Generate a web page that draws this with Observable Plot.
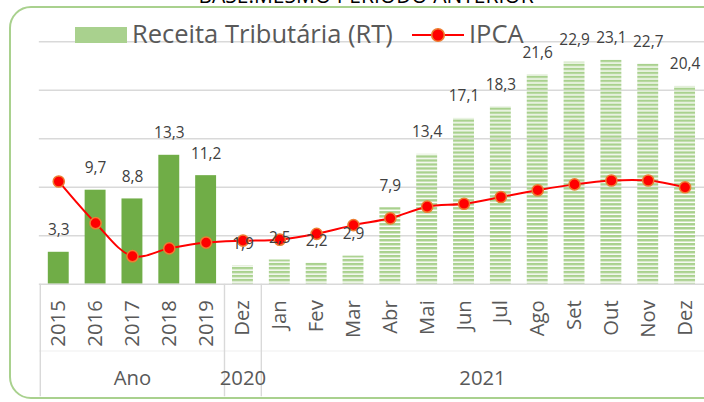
<!DOCTYPE html>
<html>
<head>
<meta charset="utf-8">
<script src="https://cdn.jsdelivr.net/npm/d3@7"></script>
<script src="https://cdn.jsdelivr.net/npm/@observablehq/plot@0.6"></script>
<style>
  html, body { margin: 0; padding: 0; background: #fff; overflow: hidden; }
  #wrap { position: relative; width: 704px; height: 402px; overflow: hidden; font-family: "Open Sans", sans-serif; }
  #border { position: absolute; left: 9px; top: 6px; width: 720px; height: 393px; box-sizing: border-box; border: 2px solid #a9d18e; border-radius: 22px; }
  #title { position: absolute; left: 0; width: 732px; text-align: center; top: -14.6px; font-size: 21px; line-height: 1; color: #000; white-space: nowrap; }
  #chart { position: absolute; left: 0; top: 0; }
  .leg { position: absolute; font-size: 25.5px; line-height: 1; color: #595959; white-space: nowrap; }
</style>
</head>
<body>
<svg width="0" height="0" style="position:absolute">
  <defs>
    <pattern id="hatch" patternUnits="userSpaceOnUse" width="6" height="4">
      <rect x="0" y="0" width="6" height="2" fill="#a9d18e"></rect>
      <rect x="0" y="2" width="6" height="1" fill="#d3e6c4"></rect>
    </pattern>
  </defs>
</svg>
<div id="wrap">
  <div id="border"></div>
  <div id="title"></div>
  <div id="chart"></div>
  <div id="legend"></div>
</div>
<script>
// ---- data ----
const categories = ["2015","2016","2017","2018","2019","Dez-2020","Jan","Fev","Mar","Abr","Mai","Jun","Jul","Ago","Set","Out","Nov","Dez"];
const tickLabels = ["2015","2016","2017","2018","2019","Dez","Jan","Fev","Mar","Abr","Mai","Jun","Jul","Ago","Set","Out","Nov","Dez"];
const periodGroup = ["Ano","Ano","Ano","Ano","Ano","2020","2021","2021","2021","2021","2021","2021","2021","2021","2021","2021","2021","2021"];
const groups = ["Ano","2020","2021"];
const receitaRT = [3.3, 9.7, 8.8, 13.3, 11.2, 1.9, 2.5, 2.2, 2.9, 7.9, 13.4, 17.1, 18.3, 21.6, 22.9, 23.1, 22.7, 20.4];
const ipca = [10.6, 6.3, 2.9, 3.7, 4.3, 4.5, 4.6, 5.2, 6.1, 6.8, 8.0, 8.3, 9.0, 9.7, 10.3, 10.7, 10.7, 10.0];
const yTicks = [0, 5, 10, 15, 20, 25];
const titleText = "BASE:MESMO PERÍODO ANTERIOR";
const legendRT = "Receita Tributária (RT)";
const legendIPCA = "IPCA";

// ---- layout ----
const W = 707, H = 402;
const mLeft = 39, mRight = 0, mTop = 41.5, mBottom = 117;
const step = (W - mLeft - mRight) / categories.length;

const data = categories.map((c, i) => ({cat: c, label: tickLabels[i], grupo: periodGroup[i], rt: receitaRT[i], ipca: ipca[i]}));
const fmt = v => v.toFixed(1).replace(".", ",");

// group separators and labels
const groupInfo = groups.map(g => {
  const idx = periodGroup.map((p, i) => p === g ? i : -1).filter(i => i >= 0);
  const first = idx[0], last = idx[idx.length - 1];
  const mid = (first + last) / 2;
  return {g, first: categories[first], midCat: categories[Math.floor(mid)], dx: (mid - Math.floor(mid)) * step};
});

const gray = "#d9d9d9";
const textCol = "#595959";

const chart = Plot.plot({
  width: W, height: H,
  marginLeft: mLeft, marginRight: mRight, marginTop: mTop, marginBottom: mBottom,
  style: {background: "none", overflow: "visible", fontFamily: "Open Sans, sans-serif"},
  x: {domain: categories, paddingInner: 0.43, paddingOuter: 0.215, axis: null},
  y: {domain: [0, 25], axis: null},
  marks: [
    Plot.ruleY(yTicks.filter(d => d > 0), {stroke: gray, strokeWidth: 1.4}),
    Plot.ruleY([0], {stroke: "#efefef", strokeWidth: 1, dy: 67}),
    Plot.barY(data, {x: "cat", y: "rt", fill: d => d.grupo === "Ano" ? "#70ad47" : "url(#hatch)"}),
    Plot.ruleY([0], {stroke: gray, strokeWidth: 1.6}),
    Plot.ruleX(groupInfo, {x: "first", dx: -step / 2, stroke: gray, strokeWidth: 1.4, insetTop: H - mTop - mBottom, insetBottom: -113}),
    Plot.line(data, {x: "cat", y: "ipca", stroke: "#ff0000", strokeWidth: 2, curve: "catmull-rom"}),
    Plot.dot(data, {x: "cat", y: "ipca", r: 5.6, fill: "#ff0000", stroke: "#ed7d31", strokeWidth: 1.5}),
    Plot.text(data, {x: "cat", y: "rt", text: d => fmt(d.rt), dy: -22, fill: "#404040", fontSize: 15.5}),
    Plot.axisX({domain: categories, tickFormat: (d) => tickLabels[categories.indexOf(d)], tickRotate: -90, tickSize: 0, tickPadding: 16, fontSize: 20.4, color: textCol, fill: textCol}),
    ...groupInfo.map(gi => Plot.text([gi.g], {x: [gi.midCat], dx: gi.dx, frameAnchor: "bottom", dy: 101, fontSize: 20.4, fill: textCol}))
  ]
});
document.getElementById("chart").appendChild(chart);

document.getElementById("title").textContent = titleText;

// legend
const leg = document.getElementById("legend");
leg.innerHTML = `
  <div style="position:absolute;left:75px;top:27px;width:52px;height:16px;background:#a9d18e"></div>
  <div class="leg" style="left:132px;top:20.7px">${legendRT}</div>
  <svg style="position:absolute;left:410px;top:26px" width="56" height="18">
    <line x1="2" x2="54" y1="9" y2="9" stroke="#ff0000" stroke-width="2"></line>
    <circle cx="28" cy="9" r="6.3" fill="#ff0000" stroke="#ed7d31" stroke-width="1.6"></circle>
  </svg>
  <div class="leg" style="left:469px;top:20.7px">${legendIPCA}</div>
`;
</script>
</body>
</html>
